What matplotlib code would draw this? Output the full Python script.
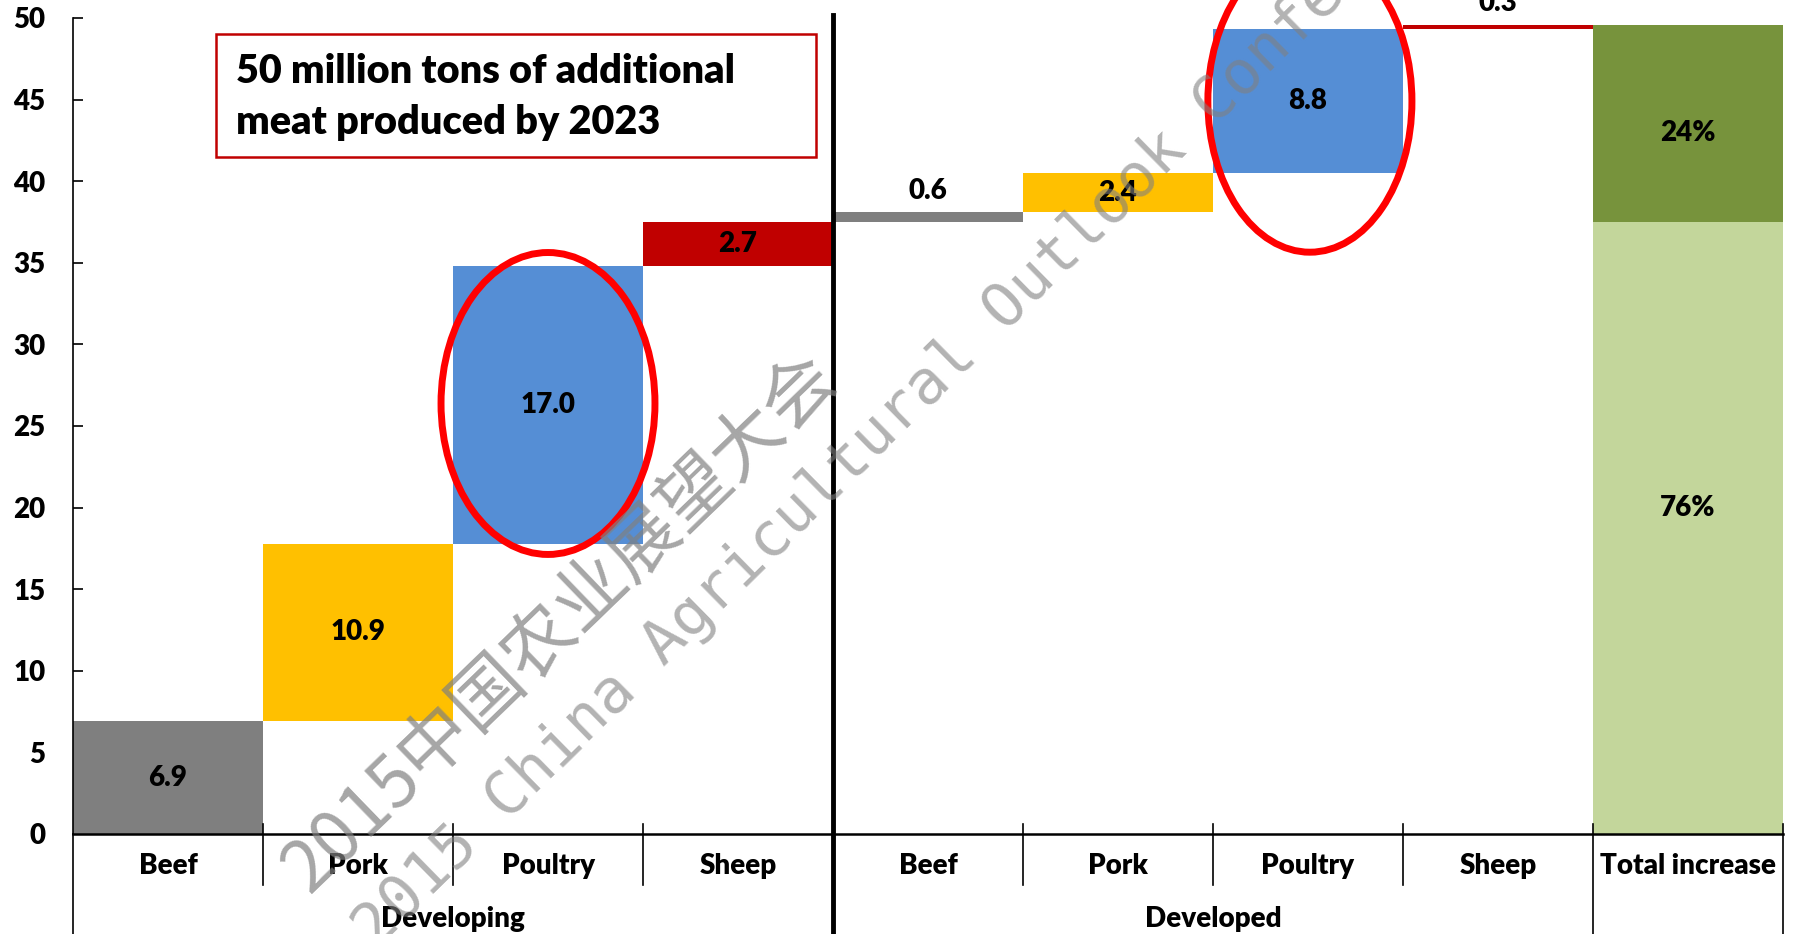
import numpy as np
import matplotlib.pyplot as plt
from matplotlib.patches import Ellipse, Rectangle

# data (million tons of additional meat by 2023)
meats = ['Beef', 'Pork', 'Poultry', 'Sheep']
groups = ['Developing', 'Developed']
developing = [6.9, 10.9, 17.0, 2.7]
developed = [0.6, 2.4, 8.8, 0.3]
total_label = 'Total increase'
headline = ['50 million tons of additional', 'meat produced by 2023']
watermark_cn = '2015中国农业展望大会'
watermark_en = '2015 China Agricultural Outlook Conference'

meat_colors = ['#7F7F7F', '#FFC000', '#558ED5', '#C00000']
share_colors = ['#C3D69B', '#77933C']

plt.rcParams['font.family'] = ['Lato', 'DejaVu Sans']
BOLD = 'heavy'

W, H = 1796, 934
fig = plt.figure(figsize=(W / 100, H / 100), dpi=100)
ax = fig.add_axes([73 / W, 100 / H, 1710 / W, 816 / H])

# waterfall steps
steps = developing + developed
bottoms = np.concatenate([[0], np.cumsum(steps)[:-1]])
xpos = np.arange(len(steps)) + 0.5
ax.bar(xpos, steps, bottom=bottoms, width=1.0, color=meat_colors * 2, zorder=2)
for xi, b, v in zip(xpos, bottoms, steps):
    if v < 1:
        ax.text(xi, b + v + 1.3, f'{v:.1f}', ha='center', va='center',
                fontsize=20, fontweight=BOLD, clip_on=False, zorder=5)
    else:
        ax.text(xi, b + v / 2, f'{v:.1f}', ha='center', va='center',
                fontsize=20, fontweight=BOLD, zorder=5)

# total bar split into developing / developed shares
shares = [sum(developing), sum(developed)]
total = sum(shares)
xt = len(steps) + 0.5
ax.bar(xt, shares[0], width=1.0, color=share_colors[0], zorder=2)
ax.bar(xt, shares[1], bottom=shares[0], width=1.0, color=share_colors[1], zorder=2)
ax.text(xt, shares[0] / 2 + 1.2, f'{round(100 * shares[0] / total)}%', ha='center', va='center',
        fontsize=20, fontweight=BOLD, zorder=5)
ax.text(xt, shares[0] + shares[1] / 2 - 0.6, f'{round(100 * shares[1] / total)}%', ha='center',
        va='center', fontsize=20, fontweight=BOLD, zorder=5)

ax.set_xlim(0, len(steps) + 1)
ax.set_ylim(0, 50)
ax.set_xticks([])
ax.set_yticks(range(0, 51, 5))
ax.tick_params(axis='y', direction='in', length=7, width=1.2, pad=20, labelsize=20)
for lbl in ax.get_yticklabels():
    lbl.set_fontweight(BOLD)
for s in ['top', 'right']:
    ax.spines[s].set_visible(False)
ax.spines['left'].set_linewidth(1.2)
ax.spines['bottom'].set_linewidth(1.8)

# category and group labels below the axis
trans = ax.get_xaxis_transform()
cats = meats + meats + [total_label]
for i, c in enumerate(cats):
    ax.text(i + 0.5, -0.039, c, transform=trans, ha='center', va='center',
            fontsize=20, fontweight=BOLD)
for gi, g in enumerate(groups):
    ax.text(2 + 4 * gi, -0.104, g, transform=trans, ha='center', va='center',
            fontsize=20, fontweight=BOLD)

for b in [1, 2, 3, 5, 6, 7]:
    ax.plot([b, b], [0.012, -0.063], transform=trans, color='black', lw=1.2, clip_on=False)
for b in [8, 9]:
    ax.plot([b, b], [0.012, -0.13], transform=trans, color='black', lw=1.2, clip_on=False)
ax.plot([0, 0], [0, -0.13], transform=trans, color='black', lw=1.2, clip_on=False)
ax.plot([4, 4], [1.004, -0.13], transform=trans, color='black', lw=3.5, clip_on=False, zorder=6)

# highlight rings
ax.add_patch(Ellipse((2.5, 26.38), 1.126, 18.5, fill=False, ec='#FF0000', lw=5,
                     zorder=6, clip_on=False))
ax.add_patch(Ellipse((6.51, 44.9), 1.074, 18.5, fill=False, ec='#FF0000', lw=5,
                     zorder=6, clip_on=False))

# headline box
fig.add_artist(Rectangle((216 / W, 1 - 157 / H), 600 / W, 123 / H, transform=fig.transFigure,
                         fill=False, ec='#C00000', lw=1.8))
fig.text(236 / W, 1 - 83 / H, headline[0], va='baseline', ha='left', fontsize=28.5, fontweight=BOLD)
fig.text(236 / W, 1 - 134 / H, headline[1], va='baseline', ha='left', fontsize=28.5, fontweight=BOLD)

# watermark
fig.text(560 / W, 1 - 623 / H, watermark_cn, rotation=44, rotation_mode='anchor',
         ha='center', va='center', fontsize=52, color='#808080', alpha=0.7,
         family=['Noto Sans CJK SC', 'DejaVu Sans'], zorder=10)
fig.text(915 / W, 1 - 398 / H, watermark_en, rotation=44.5, rotation_mode='anchor',
         ha='center', va='center', fontsize=44, color='#808080', alpha=0.6,
         family=['DejaVu Sans Mono'], zorder=10)

fig.savefig('out.png', dpi=100)
